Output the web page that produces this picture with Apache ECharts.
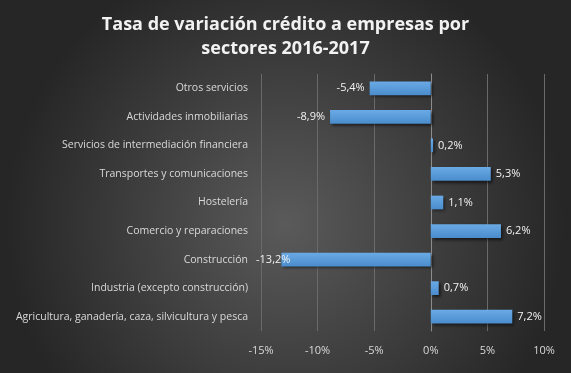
<!DOCTYPE html>
<html><head><meta charset="utf-8">
<script src="https://cdn.jsdelivr.net/npm/echarts@6/dist/echarts.min.js"></script>
<style>html,body{margin:0;padding:0;background:#fff}#c{width:571px;height:373px}</style>
</head><body><div id="c"></div>
<script>
var categories = ["Agricultura, ganadería, caza, silvicultura y pesca","Industria (excepto construcción)","Construcción","Comercio y reparaciones","Hostelería","Transportes y comunicaciones","Servicios de intermediación financiera","Actividades inmobiliarias","Otros servicios"];
var values = [7.2, 0.7, -13.2, 6.2, 1.1, 5.3, 0.2, -8.9, -5.4];
var titleText = "Tasa de variación crédito a empresas por\nsectores 2016-2017";
var xMin = -15, xMax = 10, xStep = 5;

var chart = echarts.init(document.getElementById('c'), null, {renderer:'canvas'});
chart.setOption({
  backgroundColor: {type:'radial', x:0.5, y:0.6, r:0.75, colorStops:[{offset:0,color:'#5a5a5a'},{offset:1,color:'#262626'}]},
  title: {text: titleText, left:'center', top:8, textStyle:{color:'#f2f2f2', fontFamily:'Open Sans', fontWeight:'bold', fontSize:18, lineHeight:24}},
  grid: {left:261, right:27, top:74, bottom:42, containLabel:false},
  xAxis: {type:'value', min:xMin, max:xMax, interval:xStep,
    axisLabel:{color:'#d9d9d9', fontFamily:'Open Sans', fontSize:11, margin:14, formatter:function(v){return v+'%';}},
    axisLine:{show:false}, axisTick:{show:false},
    splitLine:{show:true, lineStyle:{color:'#6a6a6a', width:1}}},
  yAxis: {type:'category', data:categories,
    axisLabel:{color:'#d9d9d9', fontFamily:'Open Sans', fontSize:10.5, margin:13},
    axisLine:{show:true, lineStyle:{color:'#8c8c8c'}}, axisTick:{show:false}},
  series: [{type:'bar', barWidth:'48%',
    data: values.map(function(v){
      var lab = {position: v<0?'left':'right'};
      if (v < -12) lab.distance = -9;
      return {value:v, label:lab};
    }),
    itemStyle:{color:{type:'linear',x:0,y:0,x2:0,y2:1,colorStops:[{offset:0,color:'#6aaae6'},{offset:1,color:'#4a8ccc'}]},
      shadowColor:'rgba(0,0,0,0.6)', shadowBlur:3, shadowOffsetX:2, shadowOffsetY:2},
    label:{show:true, color:'#f2f2f2', fontFamily:'Open Sans', fontSize:11, distance:5,
      formatter:function(p){return p.value.toFixed(1).replace('.',',')+'%';}}
  }]
});
</script></body></html>
